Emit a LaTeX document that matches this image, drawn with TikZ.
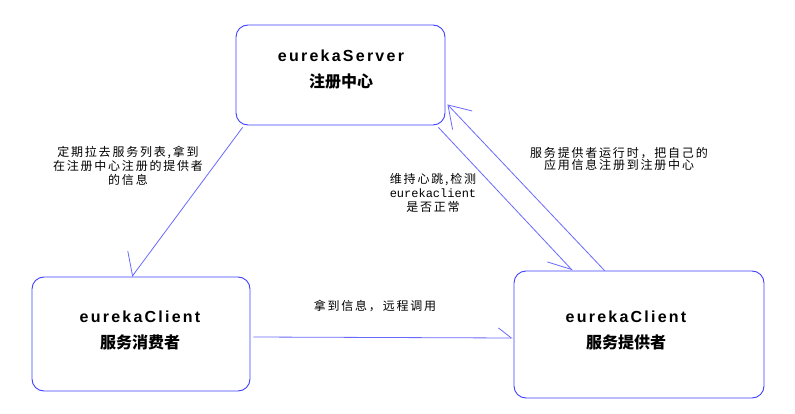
\documentclass[tikz,border=0pt]{standalone}
\usepackage{fontspec}
\setmainfont{Liberation Sans}
\newfontfamily\titlelat[LetterSpace=14]{Liberation Sans}
\newfontfamily\titlecjk{Noto Sans CJK SC}
\newfontfamily\labcjk[LetterSpace=15]{Noto Sans CJK SC}
\newfontfamily\labmono{Liberation Mono}
\usetikzlibrary{arrows.meta,calc}
\definecolor{boxblue}{RGB}{64,64,255}
\definecolor{linkblue}{RGB}{105,105,255}
\begin{document}
\begin{tikzpicture}[x=1pt,y=-1pt,
  box/.style={draw=boxblue,line width=0.9pt,rounded corners=12pt,rectangle,inner sep=0pt},
  title/.style={align=center,inner sep=0pt,font=\fontsize{16}{26}\selectfont\bfseries},
  lab/.style={align=center,inner sep=0pt,font=\fontsize{12}{14}\labcjk},
  link/.style={draw=linkblue,line width=0.8pt}]
\useasboundingbox (0,0) rectangle (795,414);
\fill[white] (0,0) rectangle (795,414);
% boxes
\node[box,minimum width=209pt,minimum height=100pt] (srv) at (340.5,75) {};
\node[box,minimum width=218pt,minimum height=114pt] (con) at (141,334) {};
\node[box,minimum width=250pt,minimum height=127pt] (prv) at (639,334.5) {};
% titles
\node[title] (srvt) at (341,70) {{\titlelat eurekaServer}\\{\titlecjk 注册中心}};
\node[title] (cont) at (140,330) {{\titlelat eurekaClient}\\{\titlecjk 服务消费者}};
\node[title] (prvt) at (626,330.5) {{\titlelat eurekaClient}\\{\titlecjk 服务提供者}};
% labels
\node[lab] (l1) at (128,166) {定期拉去服务列表,拿到\\在注册中心注册的提供者\\的信息};
\node[lab] (l2) at (433,193) {维持心跳,检测\\{\labmono eurekaclient}\\是否正常};
\node[lab,font=\fontsize{12}{12.5}\labcjk] (l3) at (619,159) {服务提供者运行时，把自己的\\应用信息注册到注册中心};
\node[lab] (l4) at (375,306) {拿到信息，远程调用};
% connectors
\draw[link,-{Straight Barb[harpoon,swap,length=17pt,width=37pt]}]
  ($(srv.south west)+(7,2)$) -- ($(con.north)+(-9,0)$);
\draw[link,-{Straight Barb[length=21pt,width=27pt]}]
  ($(prv.north west)+(91,0)$) -- ($(srv.south east)+(2,-21)$);
\draw[link,-{Straight Barb[harpoon,swap,length=22pt,width=25pt]}]
  ($(srv.south east)+(-7,2)$) -- ($(prv.north west)+(59,0)$);
\draw[link,-{Straight Barb[harpoon,length=13pt,width=20pt]}]
  ($(con.east)+(3,3)$) -- ($(prv.west)+(-1,3.5)$);
\end{tikzpicture}
\end{document}
